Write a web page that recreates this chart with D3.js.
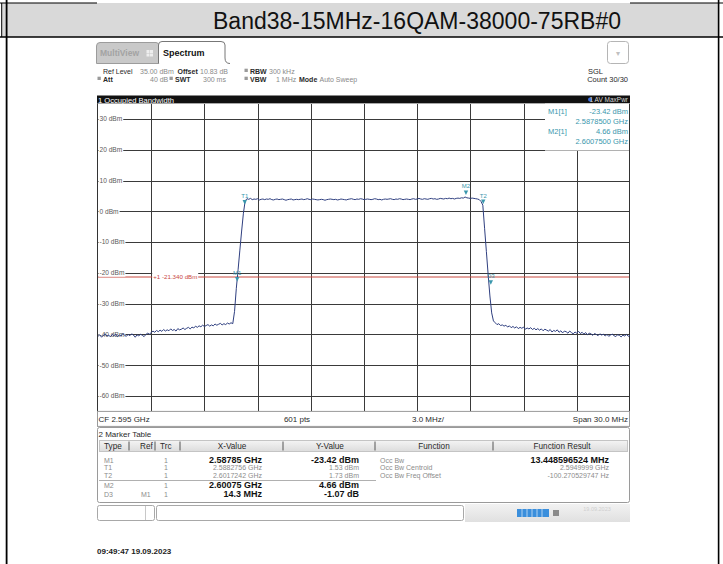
<!DOCTYPE html>
<html><head><meta charset="utf-8">
<script src="https://cdn.jsdelivr.net/npm/d3@7"></script>
<style>
html,body{margin:0;padding:0;background:#fff;}
svg{display:block;}
text{font-family:"Liberation Sans",Arial,sans-serif;}
</style></head><body>
<svg id="c" width="723" height="564"></svg>
<script>
// ---------------- data ----------------
const title = "Band38-15MHz-16QAM-38000-75RB#0";
const centerFreqGHz = 2.595;
const spanGHz = 0.030;
const refLevelDbm = 35;
const rangeDb = 100;
const displayLineDbm = -21.34;

// trace level (dBm), sampled every 0.1 MHz from 2.580 to 2.610 GHz
const traceDbm = [
-40.6,-40.1,-40.9,-40.3,-39.8,-40.5,-40.2,-40.8,-40.0,-40.4,
-39.9,-40.7,-40.2,-40.5,-39.7,-40.3,-40.6,-40.0,-40.4,-39.8,
-40.2,-40.9,-40.1,-40.5,-39.9,-40.3,-40.7,-40.0,-39.6,-39.9,
-39.4,-38.9,-39.3,-38.7,-39.1,-38.6,-39.0,-38.4,-38.9,-38.5,
-38.8,-38.2,-38.7,-38.4,-38.9,-38.1,-38.5,-38.3,-37.9,-38.4,
-38.0,-37.7,-38.2,
-37.6,-37.9,-37.3,-37.7,-37.2,-37.5,-37.0,-37.4,-37.1,-36.8,
-37.3,-36.9,-37.2,-36.6,-37.0,-36.7,-36.4,-36.9,-36.5,-36.8,
-36.3,-36.6,-36.2,-36.5,
-32.5,-25.0,-19.0,-12.6,-6.4,-0.6,3.4,
4.1,3.9,4.2,3.8,4.0,3.9,4.1,3.7,3.9,4.0,
3.8,4.0,3.9,4.1,3.8,3.7,3.9,4.0,3.8,3.9,
4.0,3.8,3.6,3.8,3.9,4.0,3.7,3.8,3.9,3.8,
3.9,4.0,3.8,3.9,4.1,3.9,3.8,4.0,3.9,3.8,
3.7,3.8,3.9,3.8,3.6,3.8,3.9,4.0,3.9,3.8,
3.9,3.7,3.8,4.0,3.9,3.8,3.7,3.9,4.0,4.1,
3.9,3.8,4.0,3.9,4.1,4.0,3.8,3.9,4.0,3.9,
3.8,3.9,4.1,4.0,3.8,3.9,3.7,3.9,4.0,3.9,
4.0,4.1,3.9,3.8,4.0,3.9,4.1,4.0,3.8,3.9,
4.0,3.9,3.8,4.0,4.1,3.9,4.0,4.2,4.0,3.9,
4.1,4.0,3.9,4.1,4.2,4.0,4.1,3.9,4.0,4.2,
4.1,4.0,4.2,4.1,4.3,4.1,4.2,4.0,4.2,4.3,
4.2,4.4,4.3,4.66,4.4,4.3,4.2,4.3,4.2,4.1,
4.0,3.8,3.2,
2.0,-5.5,-13.0,-20.5,-27.5,-33.0,-35.6,
-36.2,-36.8,-36.5,-37.1,-36.9,
-37.3,-37.0,-37.6,-37.2,-37.8,-37.4,-37.9,-37.5,-38.1,-37.7,
-38.0,-37.6,-38.3,-37.9,-38.2,-37.8,-38.4,-38.0,-38.5,-38.1,
-38.6,-38.2,-38.8,-38.3,-38.6,
-38.9,-38.4,-39.2,-38.7,-39.0,-38.5,-39.3,-38.8,-39.5,-38.9,
-39.1,-39.6,-38.9,-39.4,-39.8,-39.2,-39.6,-39.0,-39.7,-39.3,
-39.9,-39.4,-40.1,-39.6,-39.8,-40.3,-39.7,-40.0,-40.4,-39.8,
-40.2,-39.9,-40.5,-40.0,-40.6,-40.2,-39.9,-40.4,-40.7,-40.1,
-40.3,-40.8,-40.2,-40.5,-40.0,-40.6,-40.3
];

const yTickValues = [30,20,10,0,-10,-20,-30,-40,-50,-60];
const yTickLabels = ["30 dBm","20 dBm","10 dBm","0 dBm","-10 dBm","-20 dBm","-30 dBm","-40 dBm","-50 dBm","-60 dBm"];
const xGridGHz = [2.583,2.586,2.589,2.592,2.595,2.598,2.601,2.604,2.607];

const markerNames = ["T1","M1","M2","T2","D3"];
const markerFreqGHz = [2.5882756,2.58785,2.60075,2.6017242,2.60215];
const markerDbm = [1.53,-23.42,4.66,1.73,-24.49];

const infoLabels = ["M1[1]","","M2[1]",""];
const infoValues = ["-23.42 dBm","2.5878500 GHz","4.66 dBm","2.6007500 GHz"];

const tableHeaders = ["Type","Ref","Trc","X-Value","Y-Value","Function","Function Result"];
const tableType = ["M1","T1","T2","M2","D3"];
const tableRef = ["","","","","M1"];
const tableTrc = ["1","1","1","1","1"];
const tableX = ["2.58785 GHz","2.5882756 GHz","2.6017242 GHz","2.60075 GHz","14.3 MHz"];
const tableY = ["-23.42 dBm","1.53 dBm","1.73 dBm","4.66 dBm","-1.07 dB"];
const tableFunc = ["Occ Bw","Occ Bw Centroid","Occ Bw Freq Offset","",""];
const tableResult = ["13.448596524 MHz","2.5949999 GHz","-100.270529747 Hz","",""];
const tableBold = [true,false,false,true,true];
const tableResultBold = [true,false,false,false,false];

// ---------------- drawing ----------------
const svg = d3.select("#c");
const defs = svg.append("defs");
const TEAL = "#3a97ad";

function t(g, x, y, s, o = {}) {
  const e = g.append("text").attr("x", x).attr("y", y).text(s)
    .attr("font-size", o.size || 7).attr("fill", o.fill || "#222");
  if (o.bold) e.attr("font-weight", "bold");
  if (o.anchor) e.attr("text-anchor", o.anchor);
  if (o.len) e.attr("textLength", o.len).attr("lengthAdjust", "spacingAndGlyphs");
  return e;
}

// document table
svg.append("rect").attr("x", 2).attr("y", 3).attr("width", 716).attr("height", 34).attr("fill", "#d9d9d9");
svg.append("line").attr("x1", 0).attr("x2", 723).attr("y1", 37).attr("y2", 37).attr("stroke", "#000").attr("stroke-width", 1.6);
svg.append("line").attr("x1", 0).attr("x2", 97).attr("y1", 3).attr("y2", 3).attr("stroke", "#000").attr("stroke-width", 1.2);
svg.append("line").attr("x1", 630).attr("x2", 723).attr("y1", 3).attr("y2", 3).attr("stroke", "#000").attr("stroke-width", 1.2);
svg.append("line").attr("x1", 1.7).attr("x2", 1.7).attr("y1", 3).attr("y2", 37).attr("stroke", "#000").attr("stroke-width", 1);
svg.append("line").attr("x1", 6.6).attr("x2", 6.6).attr("y1", 0).attr("y2", 564).attr("stroke", "#000").attr("stroke-width", 1.8);
svg.append("line").attr("x1", 718.6).attr("x2", 718.6).attr("y1", 0).attr("y2", 564).attr("stroke", "#000").attr("stroke-width", 1.6);
t(svg, 213, 28.5, title, { size: 23, fill: "#111", len: 408 });

// ---- instrument screen ----
const scr = svg.append("g");
scr.append("path").attr("d", "M96.5,63.5 V46 Q96.5,42.5 100,42.5 H156 Q159,42.5 159,46 V63.5 Z")
  .attr("fill", "#c9c9c9").attr("stroke", "#9c9c9c");
t(scr, 100, 56, "MultiView", { size: 8.5, fill: "#a3a3a3", bold: true });
[[146.5,50],[150,50],[146.5,53.5],[150,53.5]].forEach(p =>
  scr.append("rect").attr("x", p[0]).attr("y", p[1]).attr("width", 3).attr("height", 3).attr("fill", "#eee"));
scr.append("path").attr("d", "M158.5,63.5 V45 Q158.5,41.5 162,41.5 H221 Q225,41.5 225,45 V58 Q225,63.5 230,63.5")
  .attr("fill", "#fff").attr("stroke", "#777");
t(scr, 163, 56, "Spectrum", { size: 9, fill: "#111", bold: true });
scr.append("rect").attr("x", 607.5).attr("y", 41.5).attr("width", 21).attr("height", 22).attr("rx", 3)
  .attr("fill", "#fff").attr("stroke", "#b5b5b5");
t(scr, 618, 56, "▾", { size: 8, fill: "#c0c0c0", anchor: "middle" });

// settings rows
const dark = "#2a2a2a", grey = "#8a8a8a";
t(scr, 103, 73.5, "Ref Level", { fill: dark });
t(scr, 140, 73.5, "35.00 dBm", { fill: grey });
t(scr, 177.5, 73.5, "Offset", { fill: dark, bold: true });
t(scr, 200, 73.5, "10.83 dB", { fill: grey });
scr.append("rect").attr("x", 244.5).attr("y", 68.7).attr("width", 3.3).attr("height", 3.3).attr("fill", "#9a9a9a");
t(scr, 250, 73.5, "RBW", { fill: dark, bold: true });
t(scr, 269, 73.5, "300 kHz", { fill: grey });
scr.append("rect").attr("x", 97.5).attr("y", 76.7).attr("width", 3.3).attr("height", 3.3).attr("fill", "#9a9a9a");
t(scr, 103, 81.5, "Att", { fill: dark, bold: true });
t(scr, 150, 81.5, "40 dB", { fill: grey });
scr.append("rect").attr("x", 169.5).attr("y", 76.7).attr("width", 3.3).attr("height", 3.3).attr("fill", "#9a9a9a");
t(scr, 175, 81.5, "SWT", { fill: dark, bold: true });
t(scr, 203, 81.5, "300 ms", { fill: grey });
scr.append("rect").attr("x", 244.5).attr("y", 76.7).attr("width", 3.3).attr("height", 3.3).attr("fill", "#9a9a9a");
t(scr, 250, 81.5, "VBW", { fill: dark, bold: true });
t(scr, 276, 81.5, "1 MHz", { fill: grey });
t(scr, 299, 81.5, "Mode", { fill: dark, bold: true });
t(scr, 319.5, 81.5, "Auto Sweep", { fill: grey });
t(scr, 588, 73.5, "SGL", { fill: dark, size: 7.5 });
t(scr, 628, 81.5, "Count 30/30", { fill: dark, anchor: "end", size: 7.5 });

// title bar of the diagram
scr.append("rect").attr("x", 97).attr("y", 95.5).attr("width", 533).attr("height", 8.1).attr("fill", "#111");
t(scr, 98, 102.6, "1 Occupied Bandwidth", { size: 7.6, fill: "#fff" });
scr.append("circle").attr("cx", 590).attr("cy", 99.6).attr("r", 2).attr("fill", "#3f6fe0");
t(scr, 628, 102.3, "1 AV MaxPwr", { size: 6.5, fill: "#d8d8d8", anchor: "end" });

// plot
const L = 98, R = 630, T = 103.6, B = 411.4;
const x = d3.scaleLinear().domain([centerFreqGHz - spanGHz / 2, centerFreqGHz + spanGHz / 2]).range([L, R]);
const y = d3.scaleLinear().domain([refLevelDbm - rangeDb, refLevelDbm]).range([B, T]);
const plot = scr.append("g");
plot.append("rect").attr("x", L).attr("y", T).attr("width", R - L).attr("height", B - T).attr("fill", "#fff");

const gx = plot.append("g").attr("transform", `translate(0,${B})`)
  .call(d3.axisBottom(x).tickValues(xGridGHz).tickSize(-(B - T)).tickFormat(""));
const gy = plot.append("g").attr("transform", `translate(${L},0)`)
  .call(d3.axisLeft(y).tickValues(yTickValues).tickSize(-(R - L)).tickFormat(""));
[gx, gy].forEach(g => {
  g.select(".domain").remove();
  g.selectAll(".tick line").attr("stroke", "#3a3a3a").attr("stroke-width", 1).attr("shape-rendering", "crispEdges");
});

// display line
plot.append("line").attr("x1", L).attr("x2", R).attr("y1", y(displayLineDbm)).attr("y2", y(displayLineDbm))
  .attr("stroke", "#c9483f").attr("stroke-width", 1);
const dlLabel = plot.append("g");
dlLabel.append("rect").attr("x", x(xGridGHz[0]) + 1).attr("y", y(displayLineDbm) - 5).attr("width", 46).attr("height", 10).attr("fill", "#fff");
t(dlLabel, x(xGridGHz[0]) + 2, y(displayLineDbm) + 2.3, "+1  -21.340 dBm", { size: 6.2, fill: "#c9483f" });

// y labels
yTickValues.forEach((v, i) => {
  const g = plot.append("g");
  const tx = t(g, L + 1.5, y(v) + 2.3, yTickLabels[i], { size: 6.6, fill: "#5a5a5a" });
  const w = tx.node().getComputedTextLength();
  g.insert("rect", "text").attr("x", L + 0.5).attr("y", y(v) - 3.8).attr("width", w + 2).attr("height", 7.6).attr("fill", "#fff");
});

// marker info box
const ib = plot.append("g");
ib.append("rect").attr("x", 545).attr("y", T).attr("width", R - 545).attr("height", 47).attr("fill", "#fff");
const infoY = [113.5, 123.8, 134, 144.3];
infoValues.forEach((v, i) => {
  if (infoLabels[i]) t(ib, 548, infoY[i], infoLabels[i], { size: 7.5, fill: TEAL });
  t(ib, 628, infoY[i], v, { size: 7.5, fill: TEAL, anchor: "end" });
});

// plot borders
plot.append("line").attr("x1", L - 0.5).attr("x2", L - 0.5).attr("y1", T).attr("y2", B).attr("stroke", "#333");
plot.append("line").attr("x1", R - 0.5).attr("x2", R - 0.5).attr("y1", T).attr("y2", B).attr("stroke", "#333");

// trace
const n = traceDbm.length;
const f0 = centerFreqGHz - spanGHz / 2;
const line = d3.line().x((d, i) => x(f0 + i * spanGHz / (n - 1))).y(d => y(d));
plot.append("path").datum(traceDbm).attr("d", line).attr("fill", "none")
  .attr("stroke", "#2f3f80").attr("stroke-width", 1).attr("stroke-linejoin", "round");

// markers
markerNames.forEach((m, i) => {
  const mx = x(markerFreqGHz[i]), my = y(markerDbm[i]);
  const tip = my - 2;
  plot.append("path").attr("d", `M${mx - 2.2},${tip - 4.5} L${mx + 2.2},${tip - 4.5} L${mx},${tip} Z`).attr("fill", TEAL);
  t(plot, mx, tip - 6.5, m, { size: 6, fill: TEAL, anchor: "middle" });
});

// bottom info row
scr.append("rect").attr("x", 97.5).attr("y", B).attr("width", 532).attr("height", 15).attr("fill", "#fff").attr("stroke", "#9a9a9a");
t(scr, 98.5, 421.8, "CF 2.595 GHz", { size: 8, fill: dark });
t(scr, 297, 421.8, "601 pts", { size: 8, fill: dark, anchor: "middle" });
t(scr, 428, 421.8, "3.0 MHz/", { size: 8, fill: dark, anchor: "middle" });
t(scr, 628, 421.8, "Span 30.0 MHz", { size: 8, fill: dark, anchor: "end" });

// marker table
const tb = scr.append("g");
tb.append("rect").attr("x", 97.5).attr("y", 427.5).attr("width", 532).attr("height", 75).attr("rx", 2)
  .attr("fill", "#fff").attr("stroke", "#9a9a9a");
t(tb, 98.5, 437, "2 Marker Table", { size: 8, fill: dark });
const hdrGrad = defs.append("linearGradient").attr("id", "hg").attr("x1", 0).attr("x2", 0).attr("y1", 0).attr("y2", 1);
hdrGrad.append("stop").attr("offset", 0).attr("stop-color", "#f4f4f4");
hdrGrad.append("stop").attr("offset", 1).attr("stop-color", "#dcdcdc");
tb.append("rect").attr("x", 99.5).attr("y", 440.5).attr("width", 528).attr("height", 11).attr("fill", "url(#hg)").attr("stroke", "#c4c4c4");
const hdrX = [104, 140, 160, 232, 330, 434, 562];
const hdrAnchor = ["start", "start", "start", "middle", "middle", "middle", "middle"];
tableHeaders.forEach((h, i) => t(tb, hdrX[i], 449.3, h, { size: 8.2, fill: dark, anchor: hdrAnchor[i] }));
[129, 155, 180, 283, 375, 493].forEach(sx =>
  tb.append("line").attr("x1", sx).attr("x2", sx).attr("y1", 441.5).attr("y2", 450.5).attr("stroke", "#555"));

const rowY = [462.5, 470.3, 478, 487.8, 496.5];
tableType.forEach((ty, i) => {
  const yy = rowY[i];
  t(tb, 104, yy, ty, { size: 7, fill: "#8c8c8c" });
  if (tableRef[i]) t(tb, 141, yy, tableRef[i], { size: 7, fill: "#8c8c8c" });
  t(tb, 166, yy, tableTrc[i], { size: 7, fill: "#8c8c8c", anchor: "middle" });
  if (tableBold[i]) {
    t(tb, 262, yy, tableX[i], { size: 9, fill: "#111", bold: true, anchor: "end" });
    t(tb, 359, yy, tableY[i], { size: 9, fill: "#111", bold: true, anchor: "end" });
  } else {
    t(tb, 262, yy, tableX[i], { size: 7, fill: "#8c8c8c", anchor: "end" });
    t(tb, 359, yy, tableY[i], { size: 7, fill: "#8c8c8c", anchor: "end" });
  }
  if (tableFunc[i]) t(tb, 380, yy, tableFunc[i], { size: 7, fill: "#8c8c8c" });
  if (tableResult[i]) t(tb, 609, yy, tableResult[i], tableResultBold[i]
    ? { size: 9, fill: "#111", bold: true, anchor: "end" }
    : { size: 7, fill: "#8c8c8c", anchor: "end" });
});
tb.append("line").attr("x1", 99).attr("x2", 376).attr("y1", 480.5).attr("y2", 480.5).attr("stroke", "#b0b0b0");

// status bar
const sb = scr.append("g");
sb.append("rect").attr("x", 97.5).attr("y", 505.5).attr("width", 57).attr("height", 15).attr("rx", 2).attr("fill", "#fff").attr("stroke", "#a8a8a8");
sb.append("line").attr("x1", 145.5).attr("x2", 145.5).attr("y1", 506).attr("y2", 520).attr("stroke", "#c8c8c8");
sb.append("rect").attr("x", 156.5).attr("y", 505.5).attr("width", 307).attr("height", 15).attr("rx", 2).attr("fill", "#fff").attr("stroke", "#a8a8a8");
const sg = defs.append("linearGradient").attr("id", "sg").attr("x1", 0).attr("x2", 0).attr("y1", 0).attr("y2", 1);
sg.append("stop").attr("offset", 0).attr("stop-color", "#f2f2f2");
sg.append("stop").attr("offset", 1).attr("stop-color", "#e0e0e0");
sb.append("rect").attr("x", 465).attr("y", 504).attr("width", 165).attr("height", 18).attr("fill", "url(#sg)");
sb.append("rect").attr("x", 517).attr("y", 509).attr("width", 32).attr("height", 8).attr("fill", "#3b8fdc");
[522, 527, 532, 537, 542].forEach(sx => sb.append("line").attr("x1", sx).attr("x2", sx).attr("y1", 509).attr("y2", 517).attr("stroke", "#cfe3f7").attr("stroke-width", 0.8));
sb.append("rect").attr("x", 553).attr("y", 510).attr("width", 6).attr("height", 6).attr("fill", "#8a8a8a");
t(sb, 597, 511, "19.09.2023", { size: 5.5, fill: "#cfcfcf", anchor: "middle" });

t(svg, 97, 554, "09:49:47  19.09.2023", { size: 8, fill: "#222", bold: true });
</script>
</body></html>
